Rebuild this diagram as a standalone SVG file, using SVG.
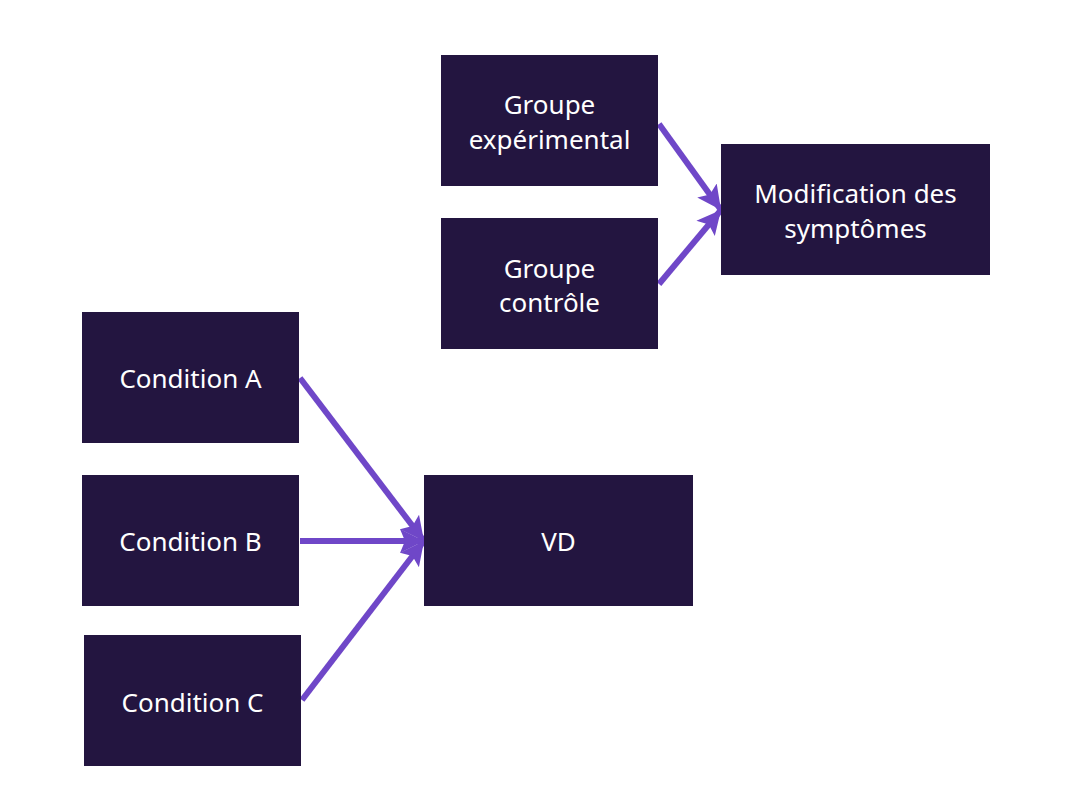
<svg xmlns="http://www.w3.org/2000/svg" width="1074" height="812" viewBox="0 0 1074 812">
<style>
.box{fill:#231540;}
.lbl{fill:#ffffff;font-family:"Noto Sans","Open Sans",sans-serif;font-size:26px;text-anchor:middle;}
.arr{stroke:#6f47c8;stroke-width:6;fill:none;marker-end:url(#ah);}
</style>
<defs>
<marker id="ah" markerUnits="userSpaceOnUse" markerWidth="26" markerHeight="26" viewBox="0 0 26 26" refX="24" refY="13" orient="auto">
<path d="M0,1 L24,13 L0,25 L5,13 Z" fill="#6f47c8"/>
</marker>
</defs>
<rect width="1074" height="812" fill="#ffffff"/>
<g id="connectors">
<line class="arr" x1="659" y1="124" x2="721" y2="210"/>
<line class="arr" x1="659" y1="284" x2="721" y2="210"/>
<line class="arr" x1="300" y1="378" x2="424" y2="541"/>
<line class="arr" x1="300" y1="541" x2="424" y2="541"/>
<line class="arr" x1="302" y1="700" x2="424" y2="541"/>
</g>
<g id="groupe-exp"><rect class="box" x="441" y="55" width="217" height="131"/><text class="lbl" x="549.5" y="114">Groupe</text><text class="lbl" x="549.5" y="149">expérimental</text></g>
<g id="groupe-ctrl"><rect class="box" x="441" y="218" width="217" height="131"/><text class="lbl" x="549.5" y="278">Groupe</text><text class="lbl" x="549.5" y="312">contrôle</text></g>
<g id="modif"><rect class="box" x="721" y="144" width="269" height="131"/><text class="lbl" x="855.5" y="203">Modification des</text><text class="lbl" x="855.5" y="238">symptômes</text></g>
<g id="condA"><rect class="box" x="82" y="312" width="217" height="131"/><text class="lbl" x="190.5" y="388">Condition A</text></g>
<g id="condB"><rect class="box" x="82" y="475" width="217" height="131"/><text class="lbl" x="190.5" y="551">Condition B</text></g>
<g id="condC"><rect class="box" x="84" y="635" width="217" height="131"/><text class="lbl" x="192.5" y="712">Condition C</text></g>
<g id="vd"><rect class="box" x="424" y="475" width="269" height="131"/><text class="lbl" x="558.5" y="551">VD</text></g>
</svg>
